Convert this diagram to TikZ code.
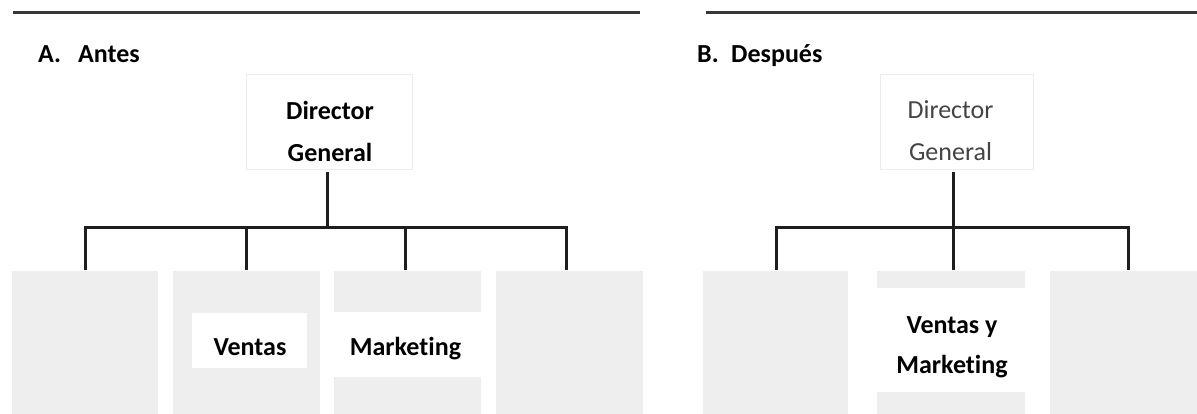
\documentclass[tikz,border=0pt]{standalone}
\usepackage{fontspec}
\setmainfont[Ligatures=NoCommon]{Carlito}
\usetikzlibrary{calc}
\definecolor{boxgray}{RGB}{238,238,238}
\definecolor{framegray}{RGB}{236,236,236}
\definecolor{rulegray}{RGB}{55,55,55}
\definecolor{linkblack}{RGB}{30,30,30}
\definecolor{softtext}{RGB}{68,68,68}
\begin{document}
\begin{tikzpicture}[x=1pt,y=-1pt,
  toprule/.style={draw=rulegray,line width=2.4pt},
  link/.style={draw=linkblack,line width=3pt,line join=miter},
  unitbox/.style={fill=boxgray,draw=none,anchor=north west,inner sep=0pt,outer sep=0pt},
  whitebox/.style={fill=white,draw=none,anchor=north west,inner sep=0pt,outer sep=0pt},
  headbox/.style={fill=white,draw=framegray,line width=1pt,anchor=north west,inner sep=0pt,outer sep=0pt},
  caption/.style={font=\fontsize{26}{30}\selectfont\bfseries,anchor=base west,inner sep=0pt},
  boxtext/.style={font=\fontsize{26}{42}\selectfont\bfseries,align=center,inner sep=0pt},
  softboxtext/.style={font=\fontsize{26}{42}\selectfont,text=softtext,align=center,inner sep=0pt}]
\useasboundingbox (0,0) rectangle (1197,414);

% rules above both panels
\draw[toprule] (13,12.5) -- (640,12.5);
\draw[toprule] (706,12.5) -- (1197,12.5);

% ---------- panel A ----------
\node[caption] (capAa) at (38,63) {A.};
\node[caption] (capAb) at (78,63) {Antes};

\node[headbox,minimum width=166pt,minimum height=95pt] (dgA) at (246,75) {};
\node[boxtext] (dgAtxt) at (330,131) {Director\\General};

\node[unitbox,minimum width=146pt,minimum height=144pt] (a1) at (12,271) {};
\node[unitbox,minimum width=147pt,minimum height=144pt] (a2) at (173,271) {};
\node[unitbox,minimum width=147pt,minimum height=144pt] (a3) at (334,271) {};
\node[unitbox,minimum width=147pt,minimum height=144pt] (a4) at (496,271) {};

\node[whitebox,minimum width=115pt,minimum height=55pt] (ventasA) at (192,313) {};
\node[boxtext,anchor=base] (ventasAtxt) at (250,355) {Ventas};
\node[whitebox,minimum width=147pt,minimum height=65pt] (mktA) at (334,312) {};
\node[boxtext,anchor=base] (mktAtxt) at (405.5,355) {Marketing};

\coordinate (jA) at (327,228);
\coordinate (d1) at (85,270);
\coordinate (d2) at (246,270);
\coordinate (d3) at (405,270);
\coordinate (d4) at (566,270);
\draw[link] ([yshift=-2pt]dgA.south -| jA) -- (jA);
\draw[link] (d1) -- (d1 |- jA) -- (d4 |- jA) -- (d4);
\draw[link] (d2 |- jA) -- (d2);
\draw[link] (d3 |- jA) -- (d3);

% ---------- panel B ----------
\node[caption] (capBa) at (697,63) {B.};
\node[caption] (capBb) at (731,63) {Después};

\node[headbox,minimum width=153pt,minimum height=95pt] (dgB) at (880,75) {};
\node[softboxtext] (dgBtxt) at (950.5,131) {Director\\General};

\node[unitbox,minimum width=145pt,minimum height=144pt] (b1) at (703,271) {};
\node[unitbox,minimum width=148pt,minimum height=144pt] (b2) at (877,271) {};
\node[unitbox,minimum width=147pt,minimum height=144pt] (b3) at (1050,271) {};

\node[whitebox,minimum width=148pt,minimum height=104pt] (vmB) at (877,288) {};
\node[boxtext,font=\fontsize{26}{40}\selectfont\bfseries] (vmBtxt) at (952,347) {Ventas y\\Marketing};

\coordinate (jB) at (953,228);
\coordinate (e1) at (776,270);
\coordinate (e2) at (953,270);
\coordinate (e3) at (1128,270);
\draw[link] ([yshift=-2pt]dgB.south -| jB) -- (e2);
\draw[link] (e1) -- (e1 |- jB) -- (e3 |- jB) -- (e3);
\end{tikzpicture}
\end{document}
